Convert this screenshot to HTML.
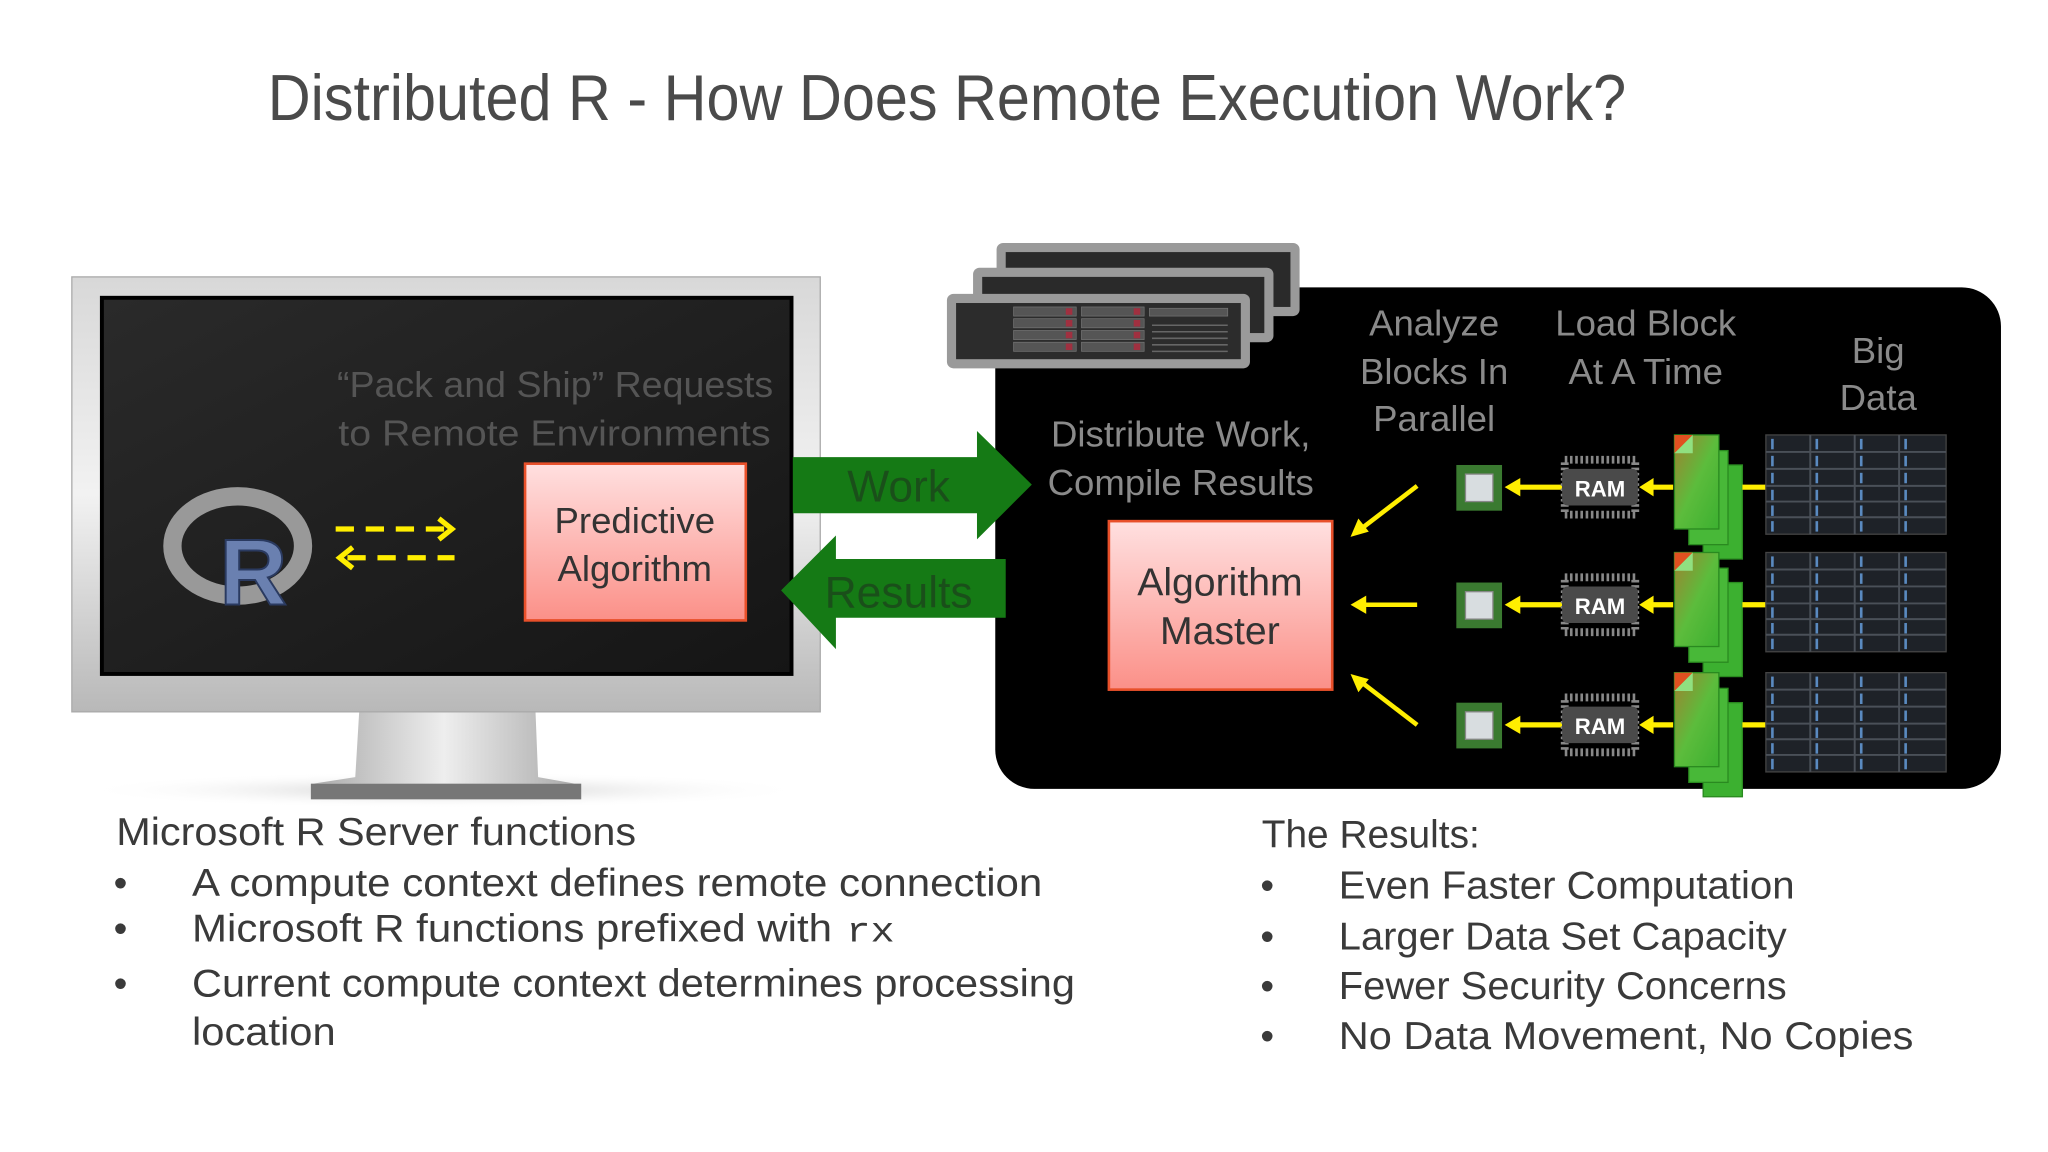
<!DOCTYPE html>
<html><head><meta charset="utf-8"><style>
html,body{margin:0;padding:0;background:#fff;}
svg{display:block;}
text{font-family:"Liberation Sans",sans-serif;}
text.mono{font-family:"Liberation Mono",monospace;}
</style></head><body>
<svg width="2048" height="1152" viewBox="0 0 1568 882" xmlns="http://www.w3.org/2000/svg">
<defs>
<linearGradient id="pink" x1="0" y1="0" x2="0" y2="1"><stop offset="0" stop-color="#ffe0e0"/><stop offset="1" stop-color="#fb9088"/></linearGradient>
<linearGradient id="silver" x1="0" y1="0" x2="0" y2="1"><stop offset="0" stop-color="#d8d8d8"/><stop offset="0.5" stop-color="#f2f2f2"/><stop offset="1" stop-color="#b8b8b8"/></linearGradient>
<linearGradient id="neck" x1="0" y1="0" x2="1" y2="0"><stop offset="0" stop-color="#aaa"/><stop offset="0.5" stop-color="#eee"/><stop offset="1" stop-color="#aaa"/></linearGradient>
<linearGradient id="scr" x1="0" y1="0" x2="1" y2="1"><stop offset="0" stop-color="#2a2a2a"/><stop offset="1" stop-color="#151515"/></linearGradient>
<linearGradient id="doc" x1="0" y1="0" x2="1" y2="1"><stop offset="0" stop-color="#a08030"/><stop offset="0.5" stop-color="#5cbc3c"/><stop offset="1" stop-color="#3cb030"/></linearGradient>
<radialGradient id="shadow" cx="0.5" cy="0.5" r="0.5"><stop offset="0" stop-color="#ccc"/><stop offset="1" stop-color="#fff" stop-opacity="0"/></radialGradient>
</defs>

<text x="205" y="92" font-size="50" fill="#4a4a4a" textLength="1040" lengthAdjust="spacingAndGlyphs">Distributed R - How Does Remote Execution Work?</text>

<ellipse cx="340" cy="605" rx="280" ry="14" fill="url(#shadow)"/>
<path d="M275 545 L410 545 L412 595 L440 600 L240 600 L272 595 Z" fill="url(#neck)"/>
<rect x="238" y="600" width="207" height="12" fill="#777"/>
<rect x="55" y="212" width="573" height="333" fill="url(#silver)" stroke="#aaa"/>
<rect x="78" y="228" width="528" height="288" fill="url(#scr)" stroke="#000" stroke-width="3"/>
<text x="592" y="304" font-size="28" fill="#555" text-anchor="end" textLength="334" lengthAdjust="spacingAndGlyphs">“Pack and Ship” Requests</text>
<text x="590" y="341" font-size="28" fill="#555" text-anchor="end" textLength="331" lengthAdjust="spacingAndGlyphs">to Remote Environments</text>
<ellipse cx="182" cy="418" rx="50" ry="38" fill="none" stroke="#999" stroke-width="14"/>
<text x="168" y="463" font-size="72" font-weight="bold" fill="#6a80b0" stroke="#2a3a60" stroke-width="1.5">R</text>
<line x1="257" y1="405" x2="342" y2="405" stroke="#ffee00" stroke-width="4" stroke-dasharray="14,9"/>
<polyline points="336,397 346,405 336,413" fill="none" stroke="#ffee00" stroke-width="4"/>
<line x1="266" y1="427" x2="348" y2="427" stroke="#ffee00" stroke-width="4" stroke-dasharray="14,9"/>
<polyline points="270,419 260,427 270,435" fill="none" stroke="#ffee00" stroke-width="4"/>
<rect x="402" y="355" width="169" height="120" fill="url(#pink)" stroke="#e8502a" stroke-width="2"/>
<text x="486" y="408" font-size="28" fill="#333" text-anchor="middle">Predictive</text>
<text x="486" y="445" font-size="28" fill="#333" text-anchor="middle">Algorithm</text>

<rect x="762" y="220" width="770" height="384" rx="30" fill="#000"/>
<rect x="762" y="220" width="40" height="40" fill="#000"/>

<polygon points="607,350 748,350 748,330 790,371 748,413 748,393 607,393" fill="#157a15"/>
<text x="688" y="384" font-size="34" fill="#1a4f1a" text-anchor="middle">Work</text>
<polygon points="770,428 640,428 640,410 598,452 640,497 640,473 770,473" fill="#157a15"/>
<text x="688" y="465" font-size="34" fill="#1a4f1a" text-anchor="middle">Results</text>

<g>
<rect x="763" y="186" width="232" height="56" rx="5" fill="#9a9a9a"/><rect x="770" y="193" width="218" height="42" fill="#2a2a2a"/>
<rect x="745" y="205" width="230" height="57" rx="5" fill="#9a9a9a"/><rect x="752" y="212" width="216" height="43" fill="#2a2a2a"/>
<rect x="725" y="225" width="232" height="57" rx="5" fill="#9a9a9a"/><rect x="732" y="232" width="218" height="43" fill="#2c2c2c"/>
<g fill="#555" stroke="#777" stroke-width="0.5">
<rect x="776" y="235" width="48" height="7"/><rect x="776" y="244" width="48" height="7"/><rect x="776" y="253" width="48" height="7"/><rect x="776" y="262" width="48" height="7"/>
<rect x="828" y="235" width="48" height="7"/><rect x="828" y="244" width="48" height="7"/><rect x="828" y="253" width="48" height="7"/><rect x="828" y="262" width="48" height="7"/>
<rect x="880" y="236" width="60" height="6"/>
</g>
<g fill="#a03040"><rect x="816" y="236" width="5" height="5"/><rect x="816" y="245" width="5" height="5"/><rect x="816" y="254" width="5" height="5"/><rect x="816" y="263" width="5" height="5"/><rect x="868" y="236" width="5" height="5"/><rect x="868" y="245" width="5" height="5"/><rect x="868" y="254" width="5" height="5"/><rect x="868" y="263" width="5" height="5"/></g>
<g stroke="#666" stroke-width="1.2"><line x1="882" y1="249" x2="940" y2="249"/><line x1="882" y1="254" x2="940" y2="254"/><line x1="882" y1="259" x2="940" y2="259"/><line x1="882" y1="264" x2="940" y2="264"/><line x1="882" y1="269" x2="940" y2="269"/></g>
</g>

<g font-size="28" fill="#8a8a8a" text-anchor="middle">
<text x="1098" y="257">Analyze</text><text x="1098" y="294">Blocks In</text><text x="1098" y="330">Parallel</text>
<text x="1260" y="257">Load Block</text><text x="1260" y="294">At A Time</text>
<text x="1438" y="278">Big</text><text x="1438" y="314">Data</text>
<text x="904" y="342">Distribute Work,</text><text x="904" y="379">Compile Results</text>
</g>
<rect x="849" y="399" width="171" height="129" fill="url(#pink)" stroke="#e8502a" stroke-width="2"/>
<text x="934" y="456" font-size="30" fill="#333" text-anchor="middle">Algorithm</text>
<text x="934" y="493" font-size="30" fill="#333" text-anchor="middle">Master</text>

<g stroke="#ffee00" stroke-width="3.5" fill="#ffee00">
<line x1="1085" y1="372" x2="1042" y2="405"/><polygon points="1034,411 1040,397 1048,407" stroke="none"/>
<line x1="1085" y1="463" x2="1044" y2="463"/><polygon points="1034,463 1046,456 1046,470" stroke="none"/>
<line x1="1085" y1="555" x2="1042" y2="522"/><polygon points="1034,516 1048,520 1040,530" stroke="none"/>
</g>

<g id="r1" transform="translate(0,373)">
<rect x="1115" y="-17" width="35" height="35" fill="#3a7a30"/><rect x="1122" y="-10" width="21" height="21" fill="#d8dde0" stroke="#888"/>
<line x1="1196" y1="0" x2="1162" y2="0" stroke="#ffee00" stroke-width="4"/><polygon points="1152,0 1164,-7 1164,7" fill="#ffee00"/>
<rect x="1198" y="-21" width="54" height="42" fill="none" stroke="#888" stroke-width="6" stroke-dasharray="2,2"/>
<rect x="1196" y="-14" width="58" height="28" rx="4" fill="#4a4a4a"/>
<text x="1225" y="7" font-size="17" font-weight="bold" fill="#fff" text-anchor="middle">RAM</text>
<line x1="1281" y1="0" x2="1264" y2="0" stroke="#ffee00" stroke-width="4"/><polygon points="1255,0 1266,-7 1266,7" fill="#ffee00"/>
<rect x="1304" y="-17" width="30" height="72" fill="#3cb030" stroke="#2a8a20"/>
<rect x="1293" y="-28" width="30" height="72" fill="#48b838" stroke="#2a8a20"/>
<rect x="1282" y="-40" width="34" height="72" fill="url(#doc)" stroke="#2a8a20"/>
<polygon points="1282,-40 1296,-40 1282,-26" fill="#e05020"/><polygon points="1296,-40 1296,-26 1282,-26" fill="#90e080"/>
<line x1="1334" y1="0" x2="1352" y2="0" stroke="#ffee00" stroke-width="4"/>
<rect x="1352" y="-40" width="138" height="76" fill="#1e2228" stroke="#444"/>
<g stroke="#4a5058" stroke-width="1.5" fill="none">
<line x1="1352" y1="-27" x2="1490" y2="-27"/><line x1="1352" y1="-14" x2="1490" y2="-14"/><line x1="1352" y1="-1" x2="1490" y2="-1"/><line x1="1352" y1="11" x2="1490" y2="11"/><line x1="1352" y1="23" x2="1490" y2="23"/>
<line x1="1386" y1="-40" x2="1386" y2="36"/><line x1="1420" y1="-40" x2="1420" y2="36"/><line x1="1454" y1="-40" x2="1454" y2="36"/>
</g>
<g fill="#5a8ac0"><rect x="1356" y="-37" width="2" height="8"/><rect x="1356" y="-24" width="2" height="8"/><rect x="1356" y="-11" width="2" height="8"/><rect x="1356" y="2" width="2" height="8"/><rect x="1356" y="14" width="2" height="8"/><rect x="1356" y="26" width="2" height="8"/>
<rect x="1390" y="-37" width="2" height="8"/><rect x="1390" y="-24" width="2" height="8"/><rect x="1390" y="-11" width="2" height="8"/><rect x="1390" y="2" width="2" height="8"/><rect x="1390" y="14" width="2" height="8"/><rect x="1390" y="26" width="2" height="8"/>
<rect x="1424" y="-37" width="2" height="8"/><rect x="1424" y="-24" width="2" height="8"/><rect x="1424" y="-11" width="2" height="8"/><rect x="1424" y="2" width="2" height="8"/><rect x="1424" y="14" width="2" height="8"/><rect x="1424" y="26" width="2" height="8"/>
<rect x="1458" y="-37" width="2" height="8"/><rect x="1458" y="-24" width="2" height="8"/><rect x="1458" y="-11" width="2" height="8"/><rect x="1458" y="2" width="2" height="8"/><rect x="1458" y="14" width="2" height="8"/><rect x="1458" y="26" width="2" height="8"/></g>
</g>
<use href="#r1" transform="translate(0,90)"/>
<use href="#r1" transform="translate(0,182)"/>

<g font-size="30" fill="#3a3a3a">
<text x="89" y="647" textLength="398" lengthAdjust="spacingAndGlyphs">Microsoft R Server functions</text>
<text x="87" y="686">•</text><text x="147" y="686" textLength="651" lengthAdjust="spacingAndGlyphs">A compute context defines remote connection</text>
<text x="87" y="721">•</text><text x="147" y="721" textLength="490" lengthAdjust="spacingAndGlyphs">Microsoft R functions prefixed with</text>
<text class="mono" x="648" y="721" font-size="27" textLength="37" lengthAdjust="spacingAndGlyphs">rx</text>
<text x="87" y="763">•</text><text x="147" y="763" textLength="676" lengthAdjust="spacingAndGlyphs">Current compute context determines processing</text>
<text x="147" y="800" textLength="110" lengthAdjust="spacingAndGlyphs">location</text>
</g>
<g font-size="30" fill="#3a3a3a">
<text x="966" y="649" textLength="167" lengthAdjust="spacingAndGlyphs">The Results:</text>
<text x="965" y="688">•</text><text x="1025" y="688" textLength="349" lengthAdjust="spacingAndGlyphs">Even Faster Computation</text>
<text x="965" y="727">•</text><text x="1025" y="727" textLength="343" lengthAdjust="spacingAndGlyphs">Larger Data Set Capacity</text>
<text x="965" y="765">•</text><text x="1025" y="765" textLength="343" lengthAdjust="spacingAndGlyphs">Fewer Security Concerns</text>
<text x="965" y="803">•</text><text x="1025" y="803" textLength="440" lengthAdjust="spacingAndGlyphs">No Data Movement, No Copies</text>
</g>
</svg>
</body></html>
